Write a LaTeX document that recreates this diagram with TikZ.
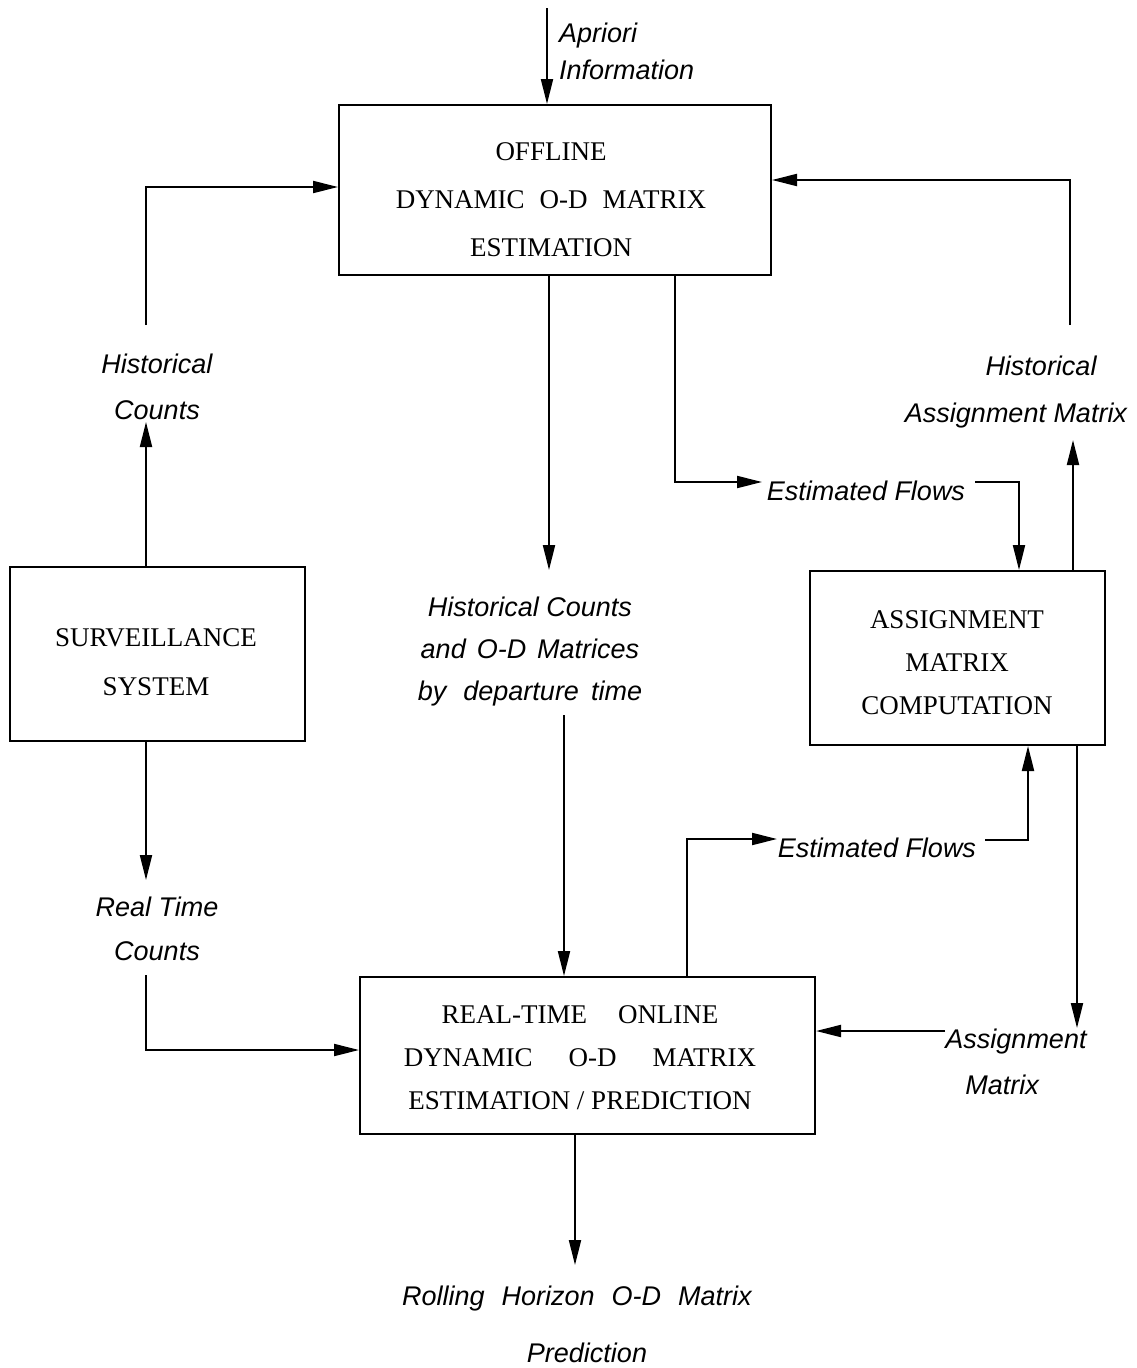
\documentclass[tikz,border=0pt]{standalone}
\usepackage{fontspec}
\setmainfont{Liberation Serif}
\setsansfont{Liberation Sans}
\usetikzlibrary{arrows.meta}
\newcommand{\wgap}{\hspace{17pt}}
\begin{document}
\begin{tikzpicture}[x=1pt,y=-1pt,
 box/.style={draw, line width=2pt, inner sep=0pt},
 btxt/.style={font=\rmfamily\fontsize{27pt}{#1}\selectfont, inner sep=0pt, align=center},
 lab/.style={font=\sffamily\itshape\fontsize{27pt}{#1}\selectfont, inner sep=0pt, align=center},
 one/.style={font=\sffamily\itshape\fontsize{27pt}{32pt}\selectfont, inner sep=0pt, anchor=base},
 conn/.style={line width=2pt},
 arr/.style={conn, -{Triangle[length=25pt,width=12pt]}}
]
\useasboundingbox (0,0) rectangle (1137,1368);

% boxes
\node[box, minimum width=432pt, minimum height=170pt] (off) at (555,190) {};
\node[box, minimum width=295pt, minimum height=174pt] (sur) at (157.5,654) {};
\node[box, minimum width=295pt, minimum height=174pt] (ass) at (957.5,658) {};
\node[box, minimum width=455pt, minimum height=157pt] (rt) at (587.5,1055.5) {};

% box texts
\node[btxt=48pt] (offT) at (551,200) {OFFLINE\\DYNAMIC\hspace{15pt}O-D\hspace{15pt}MATRIX\\ESTIMATION};
\node[btxt=49pt] (surT) at (156,662.5) {SURVEILLANCE\\SYSTEM};
\node[btxt=43pt] (assT) at (957,663) {ASSIGNMENT\\MATRIX\\COMPUTATION};
\node[btxt=43pt] (rtT) at (580,1058) {REAL-TIME\hspace{31pt}ONLINE\\DYNAMIC\hspace{36pt}O-D\hspace{36pt}MATRIX\\ESTIMATION / PREDICTION};

% labels
\node[lab=37pt, align=left, anchor=west] (apr) at (559,51) {Apriori\\Information};
\node[lab=46pt] (hc) at (157,387) {Historical\\Counts};
\node[one] (ham1) at (1041,375.5) {Historical};
\node[one] (ham2) at (1016,422.5) {Assignment Matrix};
\node[lab=42pt] (hod) at (530,652) {Historical Counts\\and\hspace{11pt}O-D\hspace{11pt}Matrices\\by\hspace{17pt}departure\hspace{12pt}time};
\node[lab=44pt] (rtc) at (157,929) {Real Time\\Counts};
\node[one] (am1) at (1016,1048.5) {Assignment};
\node[one] (am2) at (1002,1094.5) {Matrix};
\node[one] (roll1) at (577,1305.5) {Rolling\wgap Horizon\wgap O-D\wgap Matrix};
\node[one] (roll2) at (587,1362.5) {Prediction};
\node[one] (ef1) at (866,500.5) {Estimated Flows};
\node[one] (ef2) at (877,857.5) {Estimated Flows};

% connector end points
\coordinate (pA) at (547,8);
\coordinate (pB) at (146,325);
\coordinate (pC) at (146,422);
\coordinate (pD) at (146,880);
\coordinate (pE) at (146,975);
\coordinate (pF) at (549,570);
\coordinate (pG) at (564,715);
\coordinate (pH) at (762,482);
\coordinate (pI) at (975,482);
\coordinate (pJ) at (1073,440);
\coordinate (pK) at (1070,325);
\coordinate (pL) at (777,839);
\coordinate (pM) at (985,840);
\coordinate (pN) at (1077,1028);
\coordinate (pO) at (945,1031);
\coordinate (pP) at (575,1265);

% connectors
\draw[arr] (pA) -- ([xshift=-8pt]off.north);
\draw[arr] (pB) |- ([yshift=3pt]off.west);
\draw[arr] ([xshift=-11.5pt]sur.north) -- (pC);
\draw[arr] ([xshift=-11.5pt]sur.south) -- (pD);
\draw[arr] (pE) |- ([yshift=5.5pt]rt.west);
\draw[arr] ([xshift=-6pt]off.south) -- (pF);
\draw[arr] (pG) -- ([xshift=-23.5pt]rt.north);
\draw[arr] ([xshift=120pt]off.south) |- (pH);
\draw[arr] (pI) -| ([xshift=61.5pt]ass.north);
\draw[arr] ([xshift=115.5pt]ass.north) -- (pJ);
\draw[arr] (pK) |- ([yshift=10pt]off.east);
\draw[arr] ([xshift=99.5pt]rt.north) |- (pL);
\draw[arr] (pM) -| ([xshift=70.5pt]ass.south);
\draw[arr] ([xshift=119.5pt]ass.south) -- (pN);
\draw[arr] (pO) -- ([yshift=24.5pt]rt.east);
\draw[arr] ([xshift=-12.5pt]rt.south) -- (pP);
\end{tikzpicture}
\end{document}
